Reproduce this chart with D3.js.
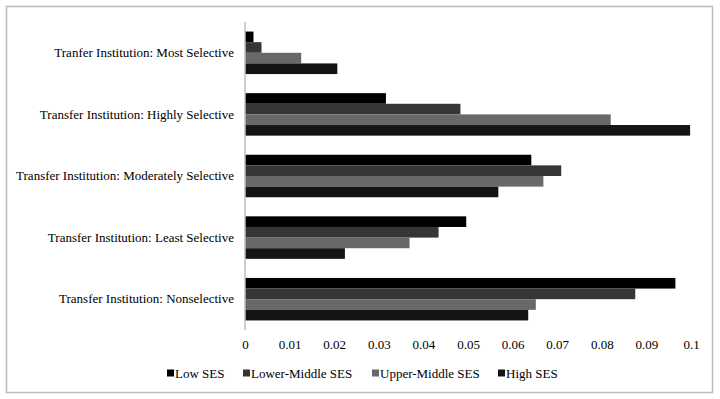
<!DOCTYPE html>
<html>
<head>
<meta charset="utf-8">
<script src="https://cdn.jsdelivr.net/npm/d3@7"></script>
<style>
    body { margin: 0; background: #fff; }
    text { font-family: "Liberation Serif", "Times New Roman", serif; fill: #000; }
</style>
</head>
<body>
<div id="chart"></div>
<script>
const categories = [
    'Tranfer Institution: Most Selective',
    'Transfer Institution: Highly Selective',
    'Transfer Institution: Moderately Selective',
    'Transfer Institution: Least Selective',
    'Transfer Institution: Nonselective'
];
const seriesNames = ['Low SES', 'Lower-Middle SES', 'Upper-Middle SES', 'High SES'];
const lowSES = [0.0019, 0.0316, 0.0642, 0.0496, 0.0965];
const lowerMiddleSES = [0.0037, 0.0483, 0.0709, 0.0434, 0.0875];
const upperMiddleSES = [0.0126, 0.0820, 0.0669, 0.0369, 0.0652];
const highSES = [0.0207, 0.0998, 0.0568, 0.0224, 0.0635];
const xTicks = [0, 0.01, 0.02, 0.03, 0.04, 0.05, 0.06, 0.07, 0.08, 0.09, 0.1];

const colors = ['#000000', '#363636', '#686868', '#141414'];
const seriesValues = [lowSES, lowerMiddleSES, upperMiddleSES, highSES];

const width = 720, height = 399;
const margin = {top: 22, right: 29, bottom: 69, left: 245};

const svg = d3.select('#chart').append('svg')
    .attr('width', width)
    .attr('height', height);

// outer frame
svg.append('rect')
    .attr('x', 6.5).attr('y', 6.5)
    .attr('width', 706).attr('height', 386)
    .attr('fill', 'none')
    .attr('stroke', '#bcbcbc')
    .attr('stroke-width', 1.5);

const chart = svg.append('g')
    .attr('transform', `translate(${margin.left}, ${margin.top})`);

const innerW = width - margin.left - margin.right;
const innerH = height - margin.top - margin.bottom;

const xScale = d3.scaleLinear()
    .domain([0, 0.1])
    .range([0, innerW]);

const yScale = d3.scaleBand()
    .domain(categories)
    .range([0, innerH])
    .paddingInner(0.31)
    .paddingOuter(0.155);

const ySub = d3.scaleBand()
    .domain(seriesNames)
    .range([0, yScale.bandwidth()]);

const rows = categories.map((c, i) => ({
    cat: c,
    vals: seriesNames.map((s, j) => ({series: s, value: seriesValues[j][i], color: colors[j]}))
}));

const groups = chart.selectAll('.group')
    .data(rows)
    .join('g')
    .attr('class', 'group')
    .attr('transform', d => `translate(0, ${yScale(d.cat)})`);

groups.selectAll('rect')
    .data(d => d.vals)
    .join('rect')
    .attr('x', 0)
    .attr('y', d => ySub(d.series))
    .attr('width', d => xScale(d.value))
    .attr('height', ySub.bandwidth())
    .attr('fill', d => d.color);

// y axis: line + labels, no ticks
const yAxis = d3.axisLeft(yScale).tickSize(0).tickPadding(11);
const yAxisGroup = chart.append('g').call(yAxis);
yAxisGroup.select('.domain').remove();
yAxisGroup.selectAll('text')
    .style('font-family', '"Liberation Serif", "Times New Roman", serif')
    .style('font-size', '13px')
    .attr('fill', '#000');

chart.append('line')
    .attr('x1', 0).attr('x2', 0)
    .attr('y1', 0).attr('y2', innerH)
    .attr('stroke', '#bfbfbf')
    .attr('stroke-width', 1.5);

// x axis: labels only
const xAxis = d3.axisBottom(xScale)
    .tickValues(xTicks)
    .tickSize(0)
    .tickPadding(10)
    .tickFormat(d => d3.format('')(+d.toFixed(2)));
const xAxisGroup = chart.append('g')
    .attr('transform', `translate(0, ${innerH})`)
    .call(xAxis);
xAxisGroup.select('.domain').remove();
xAxisGroup.selectAll('text')
    .style('font-family', '"Liberation Serif", "Times New Roman", serif')
    .style('font-size', '13px')
    .attr('fill', '#000');

// legend
const legendX = [167, 243, 372, 498];
const legend = svg.append('g')
    .attr('transform', 'translate(0, 373)');
const items = legend.selectAll('g')
    .data(seriesNames)
    .join('g')
    .attr('transform', (d, i) => `translate(${legendX[i]}, 0)`);
items.append('rect')
    .attr('x', 0).attr('y', -3.5)
    .attr('width', 7).attr('height', 7)
    .attr('fill', (d, i) => colors[i]);
items.append('text')
    .attr('x', 8)
    .attr('dy', '0.35em')
    .style('font-size', '13px')
    .text(d => d);
</script>
</body>
</html>
